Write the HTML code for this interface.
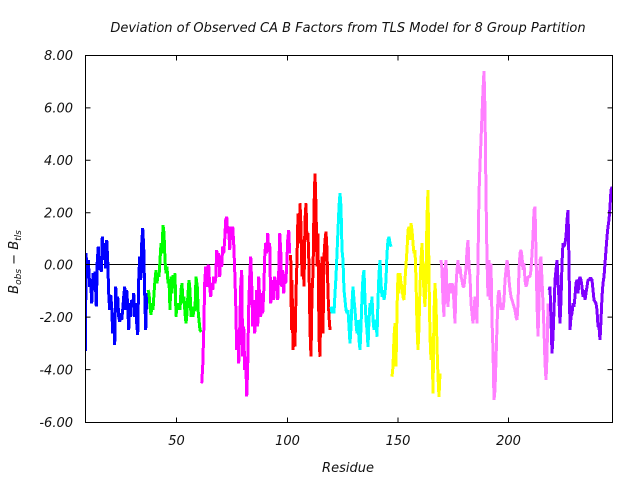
<!DOCTYPE html>
<html><head><meta charset="utf-8"><style>
html,body{margin:0;padding:0;background:#fff;}
svg{display:block;}
text{font-family:"DejaVu Sans","Liberation Sans",sans-serif;font-style:italic;fill:#111;}
</style></head><body>
<svg width="640" height="480" viewBox="0 0 640 480" xmlns="http://www.w3.org/2000/svg">
<rect width="640" height="480" fill="#fff"/>
<text x="348" y="32" font-size="13" text-anchor="middle">Deviation of Observed CA B Factors from TLS Model for 8 Group Partition</text>
<defs><clipPath id="c"><rect x="85" y="55" width="528" height="368"/></clipPath></defs>
<line x1="85" y1="264.5" x2="612.5" y2="264.5" stroke="#000" stroke-width="1"/>
<g clip-path="url(#c)" fill="none" stroke-width="3" stroke-linejoin="bevel" shape-rendering="crispEdges">
<polyline stroke="#0000ff" points="85.5,351 86,253 87.3,276.7 88.3,260 89.7,286.7 90.7,280 91.7,303.3 93,273.3 94,290 95,271.7 96.3,306.7 97.3,260 98.3,246.7 99.3,270 100.3,260 101.3,271.7 102.3,236.7 103.3,260 104.7,243.3 105.7,268.3 106.7,240 107.7,260 108.7,293.3 109.7,310 110.7,295 111.7,306.7 112.7,333.3 113.7,313.3 114.7,345 115.7,286.7 116.7,306.7 117.7,296.7 118.7,316.7 119.7,321.7 120.7,313.3 121.7,320 122.7,310 123.7,296.7 124.7,286.7 125.7,310 126.7,290 127.7,305 128.7,330 129.7,303.3 130.7,316.7 131.7,300 132.7,306.7 133.7,293.3 134.7,316.7 135.7,303.3 136.7,323.3 137.7,335 138.7,280 139.7,256.7 140.7,280 141.7,243.3 142.7,228.3 143.7,246.7 144.7,293.3 145.7,330 146.7,293.3 147.5,300"/>
<polyline stroke="#00ff00" points="148,290 149,293.3 150,306.7 151,315 152,303.3 153,310 154,293.3 155,280 156,270 157,283.3 158,273.3 159,276.7 160,260 161,243.3 162,253.3 163,225 164,233.3 165,260 166,273.3 167,266.7 168,283.3 169,280 170,310 171,276.7 172,293.3 173,275 174,286.7 175,273.3 176,316.7 177,303.3 178,310 179,303.3 180,310 181,290 182,283.3 183,303.3 184,296.7 185,313.3 186,323.3 187,313.3 188,293.3 189,280 190,290 191,316.7 192,306.7 193,316.7 193.8,310 195,310 196,276.7 197.3,286.7 198.3,313.3 200,330 201.3,332"/>
<polyline stroke="#ff00ff" points="201.7,383.3 202.7,366.7 203.7,333.3 204.7,283.3 205.7,266.7 206.7,286.7 207.7,266.7 208.7,265 209.7,286.7 210.7,296.7 211.7,283.3 212.7,290 213.7,276.7 214.7,283.3 215.7,280 216.7,250 217.7,266.7 218.7,253.3 219.7,276.7 220.7,256.7 221.7,266.7 222.7,246.7 223.7,253.3 224.7,240 225.7,220 226.7,216.7 227.7,233.3 228.7,226.7 229.7,250 230.7,226.7 231.7,240 232.7,226.7 233.7,243.3 234.7,270 235.7,303.3 236.7,350 237.7,333.3 238.7,363.3 239.7,330 240.7,286.7 241.7,270 242.7,356.7 243.7,326.7 244.7,370 245.7,356.7 246.7,396.7 247.7,366.7 248.7,306.7 249.7,276.7 250.7,256.7 251.7,283.3 252.7,326.7 253.7,300 254.7,333.3 255.7,313.3 256.7,290 257.7,326.7 258.7,276.7 259.7,300 260.7,316.7 261.7,293.3 262.7,313.3 263.7,293.3 264.7,256.7 265.7,243.3 266.7,253.3 267.7,233.3 268.7,250 269.7,243.3 270.7,303.3 271.7,290 272.7,280 273.7,300 274.7,276.7 275.7,290 276.7,280 277.7,300 278.7,273.3 279.7,233.3 280.7,250 281.7,286.7 282.7,270 283.7,293.3 284.7,276.7 285.7,283.3 286.7,266.7 287.7,240 288.7,230 289.7,253.3"/>
<polyline stroke="#ff0000" points="290.7,255 291.5,330 292,280 293,350 294,326.7 295,346.7 296,293.3 297,260 298,213.3 299,243.3 300,203.3 301,226.7 302,276.7 303,256.7 304,286.7 305,220 306,203.3 307,240 308,233.3 309,266.7 310,330 311,356.7 312,293.3 313,273.3 314,206.7 315,173.3 316,206.7 317,266.7 318,233.3 319,336.7 320,356.7 321,283.3 322,256.7 323,333.3 324,256.7 325,240 326,231.7 327,250 328,293.3 329,316.7 330,330"/>
<polyline stroke="#00ffff" points="331,306.7 332,313.3 333,306.7 334,313.3 335,293.3 336,276.7 337,253.3 338,230 339,206.7 340,193.3 341,206.7 342,250 343,260 344,290 345,300 346,310 347,313.3 348,310 349,326.7 350,343.3 351,326.7 352,303.3 353,286.7 354,300 355,310 356,323.3 357,333.3 358,320 359,340 360,350 361,326.7 362,296.7 363,276.7 364,270 365,300 366,320 367,330 368,346.7 369,320 370,303.3 371,310 372,296.7 373,320 374,330 375,323.3 376,320 377,336.7 378,300 379,273.3 380,260 381,283.3 382,296.7 383,290 384,300 385,293.3 386,280 387,253.3 388,240 389,236.7 390,243.3 391,246.7"/>
<polyline stroke="#ffff00" points="392,376.7 393,366.7 394,336.7 395,323.3 396,366.7 397,310 398,273.3 399,293.3 400,273.3 401,283.3 402,286.7 403,296.7 404,300 405,280 406,265 407,250 408,230 409,226.7 410,240 411,223.3 412,230 413,243.3 414,253.3 415,250 416,280 417,326.7 418,350 419,326.7 420,286.7 421,260 422,243.3 423,270 424,293.3 425,306.7 426,276.7 427,216.7 428,190 429,276.7 430,336.7 431,360 432,336.7 433,393.3 434,313.3 435,283.3 436,303.3 437,346.7 438,376.7 439,396.7 440,373.3"/>
<polyline stroke="#ff80ff" points="441,260 442,270 443,300 444,316.7 445,270 446,260 447,293.3 448,306.7 449,286.7 450,283.3 451,293.3 452,283.3 453,286.7 454,303.3 455,323.3 456,286.7 457,270 458,260 459,273.3 460,266.7 461,276.7 462,280 463,286.7 464,286.7 465,276.7 466,270 467,250 468,240 469,266.7 470,276.7 471,303.3 472,313.3 473,323.3 474,310 475,296.7 476,306.7 477,323.3 478,260 479,193 480,165 481,140 482,115 483,90 484,71 485,110 486,195 487,260 488,296.7 489,260 490,300 491,263.3 492,320 493,350 494,400 495,390 496,360 497,326.7 498,296.7 499,290 500,300 501,310 502,303.3 503,310 504,300 505,280 506,270 507,260 508,266.7 509,280 510,290 511,296.7 512,300 513,303.3 514,306.7 515,310 516,316.7 517,320 518,303.3 519,270 520,253.3 521,250 522,256.7 523,270 524,263.3 525,280 526,286.7 527,283.3 528,276.7 529,276.7 530,276.7 531,270 532,253.3 533,236.7 534,210 535,206.7 536,253.3 537,303.3 538,336.7 539,303.3 540,260 541,256.7 542,280 543,303.3 544,330 545,363.3 546,380 547,356.7 548,303.3"/>
<polyline stroke="#8000ff" points="549,290 550,286.7 551,320 552,353.3 553,336.7 554,310 555,280 556,270 557,260 558,280 559,300 560,323.3 561,300 562,263.3 563,243.3 564,246.7 565,243.3 566,236.7 567,220 568,210 569,263.3 570,330 571,316.7 572,313.3 573,303.3 574,306.7 575,296.7 576,283.3 577,280 578,293.3 579,280 580,276.7 581,280 582,286.7 583,296.7 584,290 585,300 586,293.3 587,286.7 588,280 589,280 590,278.3 591,278.3 592,280 593,290 594,300 595,301.7 596,303.3 597,310 598,326.7 599,326.7 600,340 601,320 602,296.7 603,283.3 604,276.7 605,263.3 606,250 607,236.7 608,226.7 609,220 610,206.7 611,190 612,186.7"/>
</g>
<g stroke="#000" stroke-width="1" fill="none">
<rect x="85.5" y="55.5" width="527" height="367"/>
<path d="M85.5 107.9h5M85.5 160.3h5M85.5 212.8h5M85.5 264.5h5M85.5 317.1h5M85.5 369.6h5M612.5 107.9h-5M612.5 160.3h-5M612.5 212.8h-5M612.5 264.5h-5M612.5 317.1h-5M612.5 369.6h-5"/>
<path d="M176.5 422.5v-5M287.5 422.5v-5M398 422.5v-5M508.5 422.5v-5M176.5 55.5v5M287.5 55.5v5M398 55.5v5M508.5 55.5v5"/>
</g>
<g font-size="13" text-anchor="end">
<text x="73" y="60">8.00</text>
<text x="73" y="112.4">6.00</text>
<text x="73" y="164.8">4.00</text>
<text x="73" y="217.3">2.00</text>
<text x="73" y="269.7">0.00</text>
<text x="73" y="322.1">-2.00</text>
<text x="73" y="374.6">-4.00</text>
<text x="73" y="427">-6.00</text>
</g>
<g font-size="13" text-anchor="middle">
<text x="176.5" y="445">50</text>
<text x="287.5" y="445">100</text>
<text x="398" y="445">150</text>
<text x="508.5" y="445">200</text>
<text x="348" y="472">Residue</text>
</g>
<text transform="translate(18,262) rotate(-90)" font-size="13" text-anchor="middle">B<tspan font-size="9" dy="3">obs</tspan><tspan dy="-3"> − B</tspan><tspan font-size="9" dy="3">tls</tspan></text>
</svg>
</body></html>
